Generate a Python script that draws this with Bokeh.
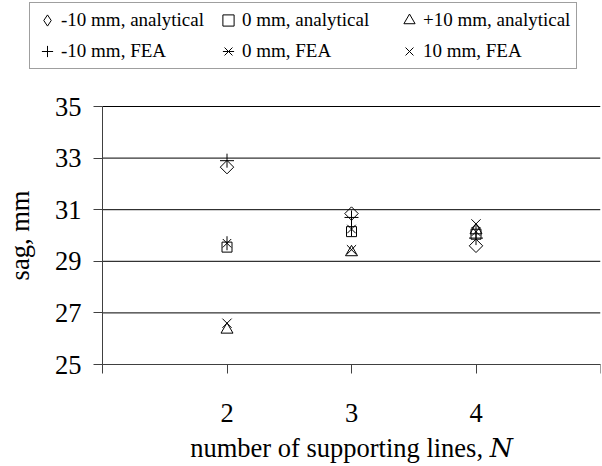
import numpy as np
from bokeh.plotting import figure
from bokeh.models import Range1d, FixedTicker, Legend, LegendItem, Label
from bokeh.embed import file_html
from bokeh.resources import INLINE

# ---- data ----
N = [2, 3, 4]
an_m10 = [32.65, 30.85, 29.60]   # -10 mm, analytical (diamond)
an_0 = [29.55, 30.15, 30.05]     # 0 mm, analytical (square)
an_p10 = [26.35, 29.35, 30.20]   # +10 mm, analytical (triangle)
fea_m10 = [32.90, 30.70, 29.90]  # -10 mm, FEA (plus)
fea_0 = [29.70, 30.25, 30.15]    # 0 mm, FEA (star)
fea_p10 = [26.60, 29.45, 30.45]  # 10 mm, FEA (x)
y_ticks = [25, 27, 29, 31, 33, 35]
x_ticks = [1, 2, 3, 4, 5]
x_labels = {1: "", 2: "2", 3: "3", 4: "4", 5: ""}
legend_labels = ["-10 mm, analytical", "0 mm, analytical", "+10 mm, analytical",
                 "-10 mm, FEA", "0 mm, FEA", "10 mm, FEA"]
x_title = "number of supporting lines, \U0001D441"
y_title = "sag, mm"

FONT = "Liberation Serif"

# frame spans the whole canvas; axes are pinned at x=1 / y=25 and bounded,
# so legend and labels outside the plotting area are not clipped
XMIN, XMAX, YMIN, YMAX = 1, 5, 25, 35
px_x = 498 / (XMAX - XMIN)
px_y = 258 / (YMAX - YMIN)
p = figure(width=602, height=466, output_backend="svg", toolbar_location=None,
           x_range=Range1d(XMIN - 102 / px_x, XMAX),
           y_range=Range1d(YMIN - 102 / px_y, YMAX + 106 / px_y),
           min_border_left=0, min_border_right=2, min_border_top=0, min_border_bottom=0)
p.outline_line_color = None
p.xgrid.visible = False
p.ygrid.visible = False

for ax in (p.xaxis[0], p.yaxis[0]):
    ax.axis_line_color = "#404040"
    ax.major_tick_line_color = "#404040"
    ax.major_tick_out = 9
    ax.major_tick_in = 0
    ax.minor_tick_line_color = None
    ax.major_label_text_font = FONT
    ax.major_label_text_font_size = "26.5px"
    ax.major_label_text_color = "black"
    ax.axis_label_text_font = FONT + ", DejaVu Serif"
    ax.axis_label_text_font_size = "26.5px"
    ax.axis_label_text_font_style = "normal"
    ax.axis_label_text_color = "black"

p.xaxis.ticker = FixedTicker(ticks=x_ticks)
p.xaxis.bounds = (XMIN, XMAX)
p.xaxis.fixed_location = YMIN
p.xaxis.major_label_overrides = x_labels
p.xaxis.major_label_standoff = 30

p.yaxis.ticker = FixedTicker(ticks=y_ticks)
p.yaxis.bounds = (YMIN, YMAX)
p.yaxis.fixed_location = XMIN
p.yaxis.major_label_standoff = 12
p.yaxis.axis_label = y_title
p.yaxis.axis_label_standoff = 17

# x-axis title centred on the plotting area
p.add_layout(Label(x=(XMIN + XMAX) / 2, y=YMIN - 83 / px_y, text=x_title,
                   text_align="center", text_baseline="middle",
                   text_font=FONT + ", DejaVu Serif", text_font_size="26.5px",
                   text_color="black"))

# horizontal gridlines at the y ticks, from the y axis to the right edge
p.segment(x0=XMIN, x1=XMAX, y0=y_ticks, y1=y_ticks, line_color="black", line_width=1)

styles = [
    dict(marker="square", angle=np.pi / 4, size=9.5),
    dict(marker="square", size=10),
    dict(marker="triangle", size=12),
    dict(marker="cross", size=14),
    None,
    dict(marker="x", size=13),
]
common = dict(line_color="black", line_width=1, fill_color=None)
series = [an_m10, an_0, an_p10, fea_m10, fea_0, fea_p10]


def draw(fig, s, ys, **kw):
    if s is None:
        return [fig.scatter(N, ys, marker="x", size=12, **common, **kw),
                fig.scatter(N, ys, marker="dash", angle=np.pi / 2, size=14, **common, **kw)]
    return [fig.scatter(N, ys, **s, **common, **kw)]


rend = [draw(p, s, ys) for s, ys in zip(styles, series)]

# legend swatch for the diamond: same data on an off-screen range (never visible)
p.extra_y_ranges = {"legend_only": Range1d(1000, 1001)}
rend[0] = [p.scatter(N, an_m10, marker="diamond", size=12, y_range_name="legend_only", **common)]

items = [LegendItem(label=lab, renderers=r) for lab, r in zip(legend_labels, rend)]
# column-major fill: reorder so rows read analytical / FEA
order = [0, 3, 1, 4, 2, 5]
legend = Legend(items=[items[i] for i in order], ncols=3, location=(29, 397),
                label_text_font=FONT, label_text_font_size="19px",
                label_text_color="black",
                glyph_width=28, glyph_height=28, label_standoff=-4,
                label_height=20, label_width=150, spacing=3, padding=3, margin=0,
                border_line_color="#404040", border_line_width=1,
                background_fill_color="white", background_fill_alpha=1)
p.add_layout(legend, "center")

open("out.html", "w").write(file_html(p, INLINE))
